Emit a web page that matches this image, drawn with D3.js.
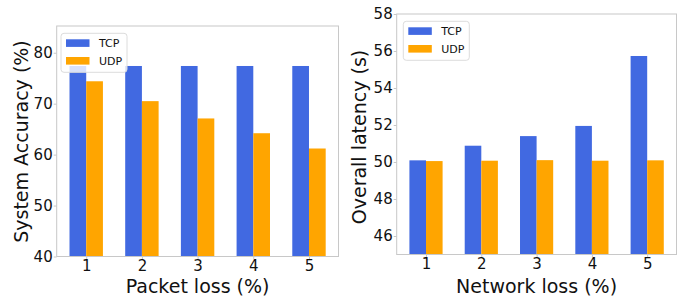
<!DOCTYPE html>
<html>
<head>
<meta charset="utf-8">
<script src="https://cdn.jsdelivr.net/npm/d3@7"></script>
<style>
  body { margin: 0; background: #fff; }
  svg { display: block; font-family: "DejaVu Sans", sans-serif; }
</style>
</head>
<body>
<div id="chart"></div>
<script>
// data
var lossLevels = [1, 2, 3, 4, 5];
var seriesNames = ["TCP", "UDP"];
var accuracyTCP = [77.4, 77.4, 77.4, 77.4, 77.4];
var accuracyUDP = [74.4, 70.5, 67.1, 64.2, 61.2];
var latencyTCP = [50.09, 50.88, 51.4, 51.95, 55.73];
var latencyUDP = [50.05, 50.07, 50.1, 50.07, 50.09];
var accuracyTicks = [40, 50, 60, 70, 80];
var latencyTicks = [46, 48, 50, 52, 54, 56, 58];

var colors = {TCP: "#4169e1", UDP: "#ffa500"};
var frameColor = "#c8c8c8";

var svg = d3.select("#chart").append("svg")
    .attr("width", 686)
    .attr("height", 298);

// one bar panel: box is the axes rectangle in pixels
function draw_panel(opt){
    var x = d3.scaleLinear().domain([0.47, 5.53]).range([opt.left, opt.right]);
    var y = d3.scaleLinear().domain(opt.yDomain).range([opt.bottom, opt.top]);
    var barW = x(0.3) - x(0);
    var g = svg.append("g");

    var series = [opt.tcp, opt.udp];
    series.forEach(function(vals, si){
        g.append("g").selectAll("rect")
            .data(vals)
          .enter().append("rect")
            .attr("x", function(d, i){ return si == 0 ? x(lossLevels[i]) - barW : x(lossLevels[i]); })
            .attr("y", function(d){ return y(d); })
            .attr("width", barW)
            .attr("height", function(d){ return y(opt.yDomain[0]) - y(d); })
            .attr("fill", colors[seriesNames[si]]);
    });

    // frame
    g.append("rect")
        .attr("x", opt.left).attr("y", opt.top)
        .attr("width", opt.right - opt.left)
        .attr("height", opt.bottom - opt.top)
        .attr("fill", "none")
        .attr("stroke", frameColor)
        .attr("stroke-width", 1);

    // y axis
    var yAxis = d3.axisLeft(y).tickValues(opt.yTicks).tickSize(3).tickPadding(1)
        .tickFormat(d3.format("d"));
    var ya = g.append("g").attr("transform", "translate(" + opt.left + ",0)").call(yAxis);
    ya.select(".domain").remove();
    ya.selectAll("line").attr("stroke", frameColor);
    ya.selectAll("text").attr("font-size", 15).attr("fill", "#111")
        .attr("font-family", "DejaVu Sans");

    // x axis
    var xAxis = d3.axisBottom(x).tickValues(lossLevels).tickSize(3).tickPadding(0.5)
        .tickFormat(d3.format("d"));
    var xa = g.append("g").attr("transform", "translate(0," + opt.bottom + ")").call(xAxis);
    xa.select(".domain").remove();
    xa.selectAll("line").attr("stroke", frameColor);
    xa.selectAll("text").attr("font-size", 15).attr("fill", "#111")
        .attr("font-family", "DejaVu Sans");

    // axis titles
    g.append("text")
        .attr("x", (opt.left + opt.right) / 2)
        .attr("y", 292.5)
        .attr("text-anchor", "middle")
        .attr("font-size", 19)
        .attr("fill", "#111")
        .text(opt.xLabel);
    g.append("text")
        .attr("transform", "translate(" + opt.yLabelX + "," + opt.yLabelY + ") rotate(-90)")
        .attr("text-anchor", "middle")
        .attr("font-size", 19)
        .attr("fill", "#111")
        .text(opt.yLabel);

    // legend
    var lg = g.append("g").attr("transform", "translate(" + opt.legendX + "," + opt.legendY + ")");
    lg.append("rect")
        .attr("width", 66).attr("height", 39)
        .attr("rx", 3)
        .attr("fill", "white").attr("fill-opacity", 0.8)
        .attr("stroke", "#dcdcdc");
    seriesNames.forEach(function(name, i){
        lg.append("rect")
            .attr("x", 5).attr("y", 6 + i * 17.7)
            .attr("width", 23.5).attr("height", 7.6)
            .attr("fill", colors[name]);
        lg.append("text")
            .attr("x", 38).attr("y", 14 + i * 17.7)
            .attr("font-size", 11)
            .attr("fill", "#111")
            .text(name);
    });
}

draw_panel({
    left: 56.7, right: 338.5, top: 26, bottom: 256.5,
    yDomain: [40, 85.25], yTicks: accuracyTicks,
    tcp: accuracyTCP, udp: accuracyUDP,
    xLabel: "Packet loss (%)", yLabel: "System Accuracy (%)",
    yLabelX: 28, yLabelY: 141.5,
    legendX: 61, legendY: 33.3
});

draw_panel({
    left: 396.7, right: 676.5, top: 14, bottom: 254.5,
    yDomain: [45, 58], yTicks: latencyTicks,
    tcp: latencyTCP, udp: latencyUDP,
    xLabel: "Network loss (%)", yLabel: "Overall latency (s)",
    yLabelX: 365.5, yLabelY: 137,
    legendX: 403.3, legendY: 21.3
});
</script>
</body>
</html>
